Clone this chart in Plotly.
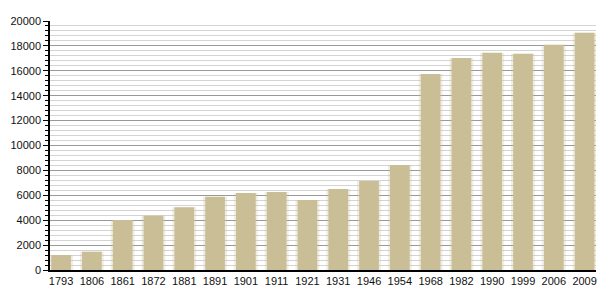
import plotly.graph_objects as go

years = ["1793", "1806", "1861", "1872", "1881", "1891", "1901", "1911", "1921",
         "1931", "1946", "1954", "1968", "1982", "1990", "1999", "2006", "2009"]
population = [1205, 1470, 4020, 4360, 5035, 5890, 6185, 6265, 5620,
              6505, 7150, 8430, 15740, 17030, 17450, 17375, 18100, 19060]
y_ticks = [0, 2000, 4000, 6000, 8000, 10000, 12000, 14000, 16000, 18000, 20000]
y_tick_labels = [str(v) for v in y_ticks]

fig = go.Figure()
# soft halo behind bars
fig.add_trace(go.Bar(x=years, y=population, width=0.78,
                     marker=dict(color="rgba(200,190,150,0.25)", line=dict(width=0)),
                     hoverinfo="skip", showlegend=False))
fig.add_trace(go.Bar(x=years, y=population, width=0.64,
                     marker=dict(color="#C9BE96", line=dict(width=0)),
                     showlegend=False))

fig.update_layout(
    width=605, height=300,
    margin=dict(l=50, r=9, t=21, b=30),
    paper_bgcolor="white", plot_bgcolor="white",
    barmode="overlay",
    font=dict(family="Liberation Sans, Arial, sans-serif", size=11, color="#111"),
    xaxis=dict(type="category", range=[-0.36, 17.37], showline=True, linecolor="black",
               linewidth=1.5, ticks="", showgrid=False, tickfont=dict(size=11, color="#111")),
    yaxis=dict(range=[0, 20000], tickvals=y_ticks, ticktext=y_tick_labels,
               showline=True, linecolor="black",
               linewidth=1.5, ticks="outside", ticklen=5, tickcolor="black",
               showgrid=True, gridcolor="#999999", gridwidth=1, zeroline=False,
               tickfont=dict(size=11, color="#111"),
               minor=dict(dtick=400, ticks="outside", ticklen=3, tickcolor="black",
                          showgrid=True, gridcolor="#d4d4d4", gridwidth=1)),
)

fig.write_html("out.html")
